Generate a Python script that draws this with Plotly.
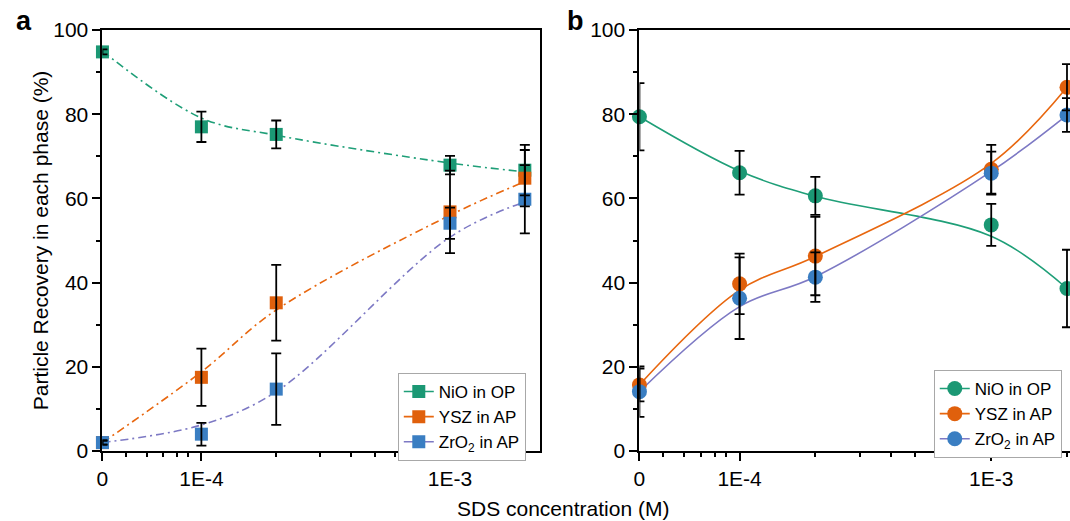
import plotly.graph_objects as go

# ---------------- data ----------------
conc = [0, 1e-4, 2e-4, 1e-3, 2e-3]          # SDS concentration (M)
conc_tick_vals = [0, 1e-4, 1e-3]
conc_tick_text = ["0", "1E-4", "1E-3"]

# panel a (squares, dash-dot fits)
nio_a = [94.8, 77.0, 75.2, 67.9, 66.7]
nio_a_err = [0.6, 3.6, 3.3, 2.2, 6.0]
ysz_a = [2.0, 17.5, 35.2, 56.8, 64.8]
ysz_a_err = [0.5, 6.8, 9.0, 9.8, 6.7]
zro2_a = [2.0, 4.0, 14.7, 54.1, 59.8]
zro2_a_err = [0.5, 2.7, 8.5, 3.7, 8.1]
nio_a_fit = [95.0, 79.1, 75.0, 68.4, 66.3]
ysz_a_fit = [2.0, 18.8, 33.5, 56.0, 64.0]
zro2_a_fit = [2.0, 6.2, 14.1, 50.8, 59.2]

# panel b (circles, solid fits)
nio_b = [79.4, 66.1, 60.6, 53.7, 38.6]
nio_b_err = [8.0, 5.2, 4.5, 5.0, 9.2]
ysz_b = [15.7, 39.7, 46.3, 66.9, 86.4]
ysz_b_err = [3.9, 7.2, 9.3, 5.8, 5.5]
zro2_b = [14.1, 36.3, 41.3, 66.0, 79.8]
zro2_b_err = [6.0, 9.7, 5.9, 5.1, 4.0]
nio_b_fit = [79.4, 66.5, 60.5, 51.0, 38.6]
ysz_b_fit = [15.7, 38.2, 46.2, 68.3, 86.4]
zro2_b_fit = [14.1, 34.3, 41.4, 66.4, 79.8]

series_names = ["NiO in OP", "YSZ in AP", "ZrO<sub>2</sub> in AP"]

# ---------------- styling ----------------
FONT = "Liberation Sans, Arial, sans-serif"
W, H = 1070, 521
ML, MR, MT, MB = 0, 0, 30, 70
PH = H - MT - MB
marker_colors = ["#1b9874", "#e0600c", "#3a7ec2"]
line_colors = ["#1f9f78", "#e8670f", "#7d79c4"]

ZERO_LOG = -4.398               # log10 position where "0" sits on the log axis
ZERO_POS = 10 ** ZERO_LOG


def xpos(vals):
    return [ZERO_POS if v == 0 else v for v in vals]


X = xpos(conc)
xt = xpos(conc_tick_vals)
# minor ticks: between "0" and 1E-4 (compressed segment) and normal log minors
seg_fracs = [0.24, 0.45, 0.61, 0.75, 0.86]
minor_vals = [10 ** (ZERO_LOG + f * (-4 - ZERO_LOG)) for f in seg_fracs]
minor_vals += [k * 1e-4 for k in range(2, 10)] + [k * 1e-3 for k in range(2, 4)]

fig = go.Figure()

panels = [
    ("x", "y", "legend", "square", 13, "8px,4px,2px,4px",
     [nio_a, ysz_a, zro2_a], [nio_a_err, ysz_a_err, zro2_a_err],
     [nio_a_fit, ysz_a_fit, zro2_a_fit]),
    ("x2", "y2", "legend2", "circle", 15, "solid",
     [nio_b, ysz_b, zro2_b], [nio_b_err, ysz_b_err, zro2_b_err],
     [nio_b_fit, ysz_b_fit, zro2_b_fit]),
]

for xa, ya, leg, sym, msize, dash, ys, errs, fits in panels:
    for i in range(3):
        fig.add_trace(go.Scatter(
            x=X, y=fits[i], mode="lines", xaxis=xa, yaxis=ya,
            line=dict(color=line_colors[i], width=1.6, dash=dash,
                      shape="spline", smoothing=1.0),
            showlegend=False, cliponaxis=False, hoverinfo="skip"))
    for i in range(3):
        fig.add_trace(go.Scatter(
            x=X, y=ys[i], mode="markers", xaxis=xa, yaxis=ya,
            marker=dict(symbol=sym, size=msize, color=marker_colors[i],
                        line=dict(width=0)),
            showlegend=False, cliponaxis=False))
    for i in range(3):
        fig.add_trace(go.Scatter(
            x=X, y=ys[i], mode="markers", xaxis=xa, yaxis=ya,
            marker=dict(size=1, opacity=0),
            error_y=dict(type="data", array=errs[i], color="black",
                         thickness=1.8, width=5),
            showlegend=False, cliponaxis=False, hoverinfo="skip"))
    # legend keys
    for i in range(3):
        fig.add_trace(go.Scatter(
            x=[None], y=[None], mode="lines+markers", xaxis=xa, yaxis=ya,
            name=series_names[i], legend=leg,
            line=dict(color=line_colors[i], width=1.6),
            marker=dict(symbol=sym, size=msize, color=marker_colors[i],
                        line=dict(width=0))))

axis_common = dict(
    showline=True, linecolor="black", linewidth=2, ticks="outside",
    tickcolor="black", tickwidth=2, ticklen=8, showgrid=False, zeroline=False,
    tickfont=dict(family=FONT, size=21, color="black"),
)
xaxis_common = dict(
    type="log", tickmode="array", tickvals=xt, ticktext=conc_tick_text,
    minor=dict(tickmode="array", tickvals=minor_vals, ticks="outside",
               ticklen=4, tickwidth=1.5, tickcolor="black"),
    **axis_common)
yaxis_common = dict(
    range=[0, 100], tickmode="linear", tick0=0, dtick=20,
    minor=dict(tickmode="linear", tick0=0, dtick=10, ticks="outside",
               ticklen=4, tickwidth=1.5, tickcolor="black"),
    **axis_common)

legend_common = dict(
    xanchor="left", yanchor="top", bgcolor="white", bordercolor="#a8a8a8",
    borderwidth=1, font=dict(family=FONT, size=17, color="black"),
    tracegroupgap=0, itemwidth=30)

fig.update_layout(
    width=W, height=H,
    margin=dict(l=ML, r=MR, t=MT, b=MB),
    paper_bgcolor="white", plot_bgcolor="white",
    font=dict(family=FONT, color="black"),
    xaxis=dict(domain=[97 / W, 537 / W], range=[ZERO_LOG, -2.638],
               anchor="y", mirror=True, **xaxis_common),
    yaxis=dict(domain=[0, 1], anchor="x", mirror=True, **yaxis_common),
    xaxis2=dict(domain=[637 / W, 1.0], range=[ZERO_LOG, -2.687],
                anchor="y2", mirror=True, **xaxis_common),
    yaxis2=dict(domain=[0, 1], anchor="x2", mirror=False, **yaxis_common),
    legend=dict(x=394 / W, y=(451 - 373) / PH, **legend_common),
    legend2=dict(x=933 / W, y=(451 - 370) / PH, **legend_common),
    annotations=[
        dict(text="Particle Recovery in each phase (%)", x=35 / W, y=0.5,
             xref="paper", yref="paper", textangle=-90, showarrow=False,
             xanchor="center", yanchor="middle",
             font=dict(family=FONT, size=21, color="black")),
        dict(text="SDS concentration (M)", x=560 / W, y=(451 - 508) / PH,
             xref="paper", yref="paper", showarrow=False,
             xanchor="center", yanchor="middle",
             font=dict(family=FONT, size=21, color="black")),
        dict(text="<b>a</b>", x=18 / W, y=(451 - 21) / PH,
             xref="paper", yref="paper", showarrow=False,
             xanchor="center", yanchor="middle",
             font=dict(family=FONT, size=27, color="black")),
        dict(text="<b>b</b>", x=573 / W, y=(451 - 21) / PH,
             xref="paper", yref="paper", showarrow=False,
             xanchor="center", yanchor="middle",
             font=dict(family=FONT, size=27, color="black")),
    ],
)

fig.write_html(
    "out.html",
    config={"displayModeBar": False},
    post_script="document.body.style.margin='0';"
                "document.body.style.overflow='hidden';",
)
